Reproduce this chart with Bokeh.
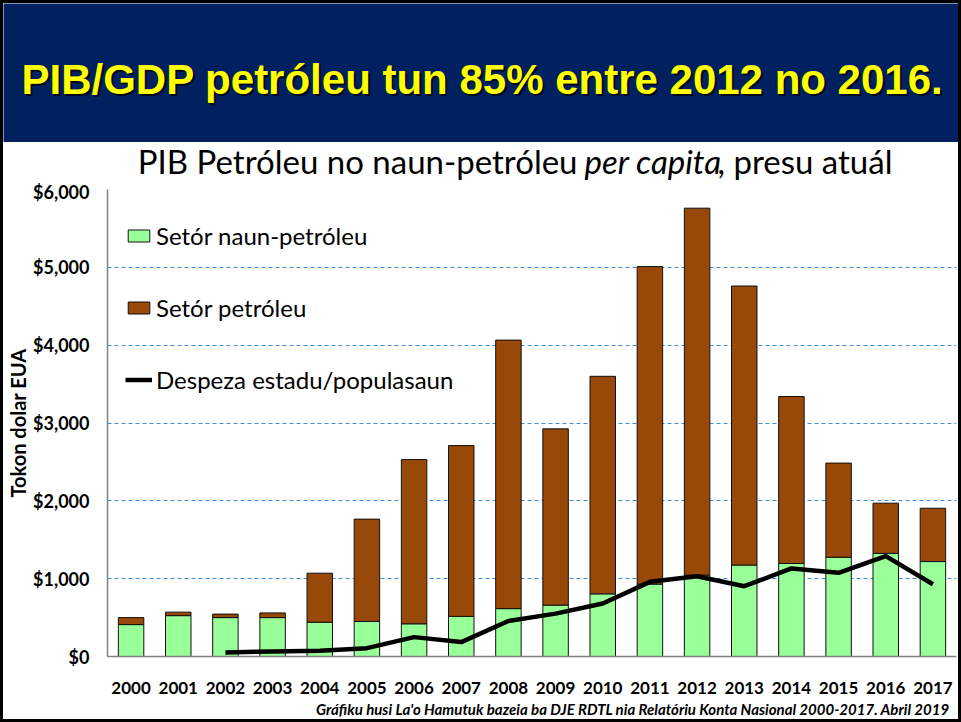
from bokeh.plotting import figure
from bokeh.models import (ColumnDataSource, Range1d, FactorRange, Legend, LegendItem,
                          NumeralTickFormatter, FixedTicker, Title)
from bokeh.layouts import column
from bokeh.embed import file_html
from bokeh.resources import INLINE
from bokeh.core.properties import value

# ---------------- data ----------------
years = [str(y) for y in range(2000, 2018)]
non_oil = [410, 525, 500, 500, 440, 450, 420, 515, 615, 660, 805, 930, 1045, 1175, 1195, 1275, 1325, 1220]
oil = [90, 45, 45, 60, 630, 1315, 2110, 2195, 3450, 2265, 2795, 4080, 4715, 3585, 2145, 1210, 645, 685]
spend_years = [str(y) for y in range(2002, 2018)]
spending = [52, 65, 73, 107, 249, 185, 456, 551, 680, 959, 1032, 903, 1131, 1075, 1290, 929]
y_ticks = [0, 1000, 2000, 3000, 4000, 5000, 6000]

headline = "PIB/GDP petróleu tun 85% entre 2012 no 2016."
title_a = "PIB Petróleu no naun-petróleu"
title_b = "per capita"
title_c = ", presu atuál"
y_label = "Tokon dolar EUA"
series_names = ["Setór naun-petróleu", "Setór petróleu", "Despeza estadu/populasaun"]
footnote = "Gráfiku husi La'o Hamutuk bazeia ba DJE RDTL  nia Relatóriu Konta Nasional 2000-2017.  Abril 2019"

GREEN = "#99FF99"
BROWN = "#984807"
NAVY = "#002060"
W = 955

# ---------------- banner ----------------
BH = 139
b = figure(width=W, height=BH, x_range=Range1d(0, W), y_range=Range1d(0, BH),
           toolbar_location=None, output_backend="svg", min_border=0, frame_align=False,
           background_fill_color=NAVY, border_fill_color=NAVY, outline_line_color=None)
b.axis.visible = False
b.grid.visible = False
b.text(x=[481], y=[61], text=[headline], text_color="#000000", text_alpha=0.75,
       text_font=value("Liberation Sans"), text_font_style="bold",
       text_font_size="42px", text_align="center", text_baseline="middle")
b.text(x=[479], y=[63], text=[headline], text_color="#FFFF00",
       text_font=value("Liberation Sans"), text_font_style="bold",
       text_font_size="42px", text_align="center", text_baseline="middle")

# ---------------- chart title ----------------
TH = 38
t = figure(width=W, height=TH, x_range=Range1d(0, W), y_range=Range1d(0, TH),
           toolbar_location=None, output_backend="svg", min_border=0, frame_align=False,
           outline_line_color=None)
t.axis.visible = False
t.grid.visible = False
FS = "33px"
TY = 20
t.text(x=[574], y=[TY], text=[title_a], text_font=value("Lato"), text_font_size=FS,
       text_align="right", text_baseline="middle", text_color="black")
t.text(x=[581], y=[TY], text=[title_b], text_font=value("Lato"), text_font_size=FS,
       text_font_style="italic", text_align="left", text_baseline="middle", text_color="black")
t.text(x=[714], y=[TY], text=[title_c], text_font=value("Lato"), text_font_size=FS,
       text_align="left", text_baseline="middle", text_color="black")

# ---------------- main chart ----------------
src = ColumnDataSource(dict(years=years, non_oil=non_oil, oil=oil))
p = figure(width=W, height=539, x_range=FactorRange(*years), y_range=Range1d(0, 6000),
           toolbar_location=None, output_backend="svg", frame_align=False,
           min_border_left=103, min_border_right=2, min_border_top=9, min_border_bottom=63,
           outline_line_color=None)

bars = p.vbar_stack(["non_oil", "oil"], x="years", width=0.54, color=[GREEN, BROWN],
                    line_color="#111111", line_width=1, source=src)
ln = p.line(x=spend_years, y=spending, line_color="black", line_width=4.5)

p.ygrid.ticker = FixedTicker(ticks=y_ticks)
p.ygrid.grid_line_color = "#3C8FD6"
p.ygrid.grid_line_dash = "4 3"
p.ygrid.grid_line_width = 1
p.xgrid.grid_line_color = None

p.yaxis.ticker = FixedTicker(ticks=y_ticks)
p.yaxis.formatter = NumeralTickFormatter(format="$0,0")
p.yaxis.axis_label = y_label
p.yaxis.axis_label_text_font = "Lato"
p.yaxis.axis_label_text_font_style = "bold"
p.yaxis.axis_label_text_font_size = "20px"
p.yaxis.axis_label_standoff = 0
p.yaxis.major_label_standoff = 18
p.yaxis.major_label_text_font = "Lato"
p.yaxis.major_label_text_font_style = "bold"
p.yaxis.major_label_text_font_size = "18px"

p.xaxis.major_label_standoff = 25
p.xaxis.major_label_text_font = "Lato"
p.xaxis.major_label_text_font_style = "bold"
p.xaxis.major_label_text_font_size = "17px"

for ax in (p.xaxis[0], p.yaxis[0]):
    ax.axis_line_color = "#808080"
    ax.axis_line_width = 1.5
    ax.major_tick_line_color = None
    ax.minor_tick_line_color = None
    ax.major_tick_out = 0
    ax.major_tick_in = 0
    ax.major_label_text_color = "black"
    ax.axis_label_text_color = "black"

legend = Legend(items=[LegendItem(label=series_names[0], renderers=[bars[0]]),
                       LegendItem(label=series_names[1], renderers=[bars[1]]),
                       LegendItem(label=series_names[2], renderers=[ln])],
                location=(18, 262), orientation="vertical",
                glyph_width=27, glyph_height=15, label_height=15, label_standoff=4,
                spacing=43, padding=0, margin=0,
                border_line_color=None, background_fill_alpha=0,
                label_text_font="Lato", label_text_font_size="24px", label_text_color="black")
p.add_layout(legend)

foot = Title(text=footnote, align="right", text_font="Lato", text_font_style="bold italic",
             text_font_size="15px", text_color="black", standoff=2)
p.add_layout(foot, "below")

layout = column(b, t, p, styles={"border": "3px solid black", "background-color": "white"})

open("out.html", "w").write(file_html(layout, INLINE))
